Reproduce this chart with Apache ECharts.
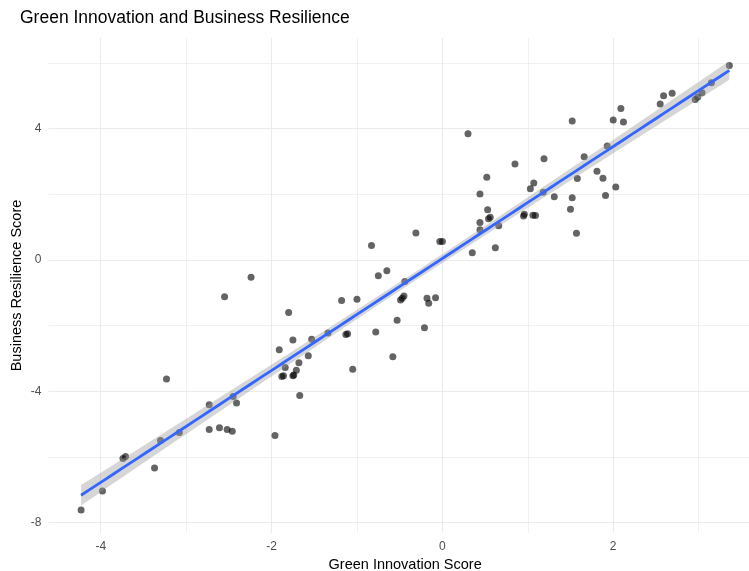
<!DOCTYPE html>
<html>
<head>
<meta charset="utf-8">
<title>Green Innovation and Business Resilience</title>
<script src="https://cdn.jsdelivr.net/npm/echarts@6/dist/echarts.min.js"></script>
<style>
  html, body { margin: 0; padding: 0; background: #ffffff; }
  #chart { width: 749px; height: 571px; }
</style>
</head>
<body>
<div id="chart"></div>
<script>
// Firm-level scores
const greenScore = [
  -4.23, -3.98, -3.74, -3.71, -3.37, -3.30, -3.23, -3.08, -2.73, -2.73,
  -2.61, -2.52, -2.46, -2.45, -2.41, -2.24, -2.55, -1.96, -1.80, -1.91,
  -1.75, -1.84, -1.88, -1.86, -1.75, -1.74, -1.71, -1.68, -1.67, -1.57,
  -1.53, -1.34, -1.18, -1.00, -1.13, -1.11, -1.05, -0.83, -0.75, -0.65,
  -0.78, -0.58, -0.53, -0.44, -0.45, -0.49, -0.47, -0.31, -0.21, -0.18,
  -0.16, -0.08, -0.03, 0.00, 0.30, 0.35, 0.44, 0.52, 0.53, 0.44,
  0.44, 0.54, 0.56, 0.66, 0.62, 0.85, 0.95, 0.96, 1.03, 1.07,
  1.06, 1.09, 1.19, 1.18, 1.31, 1.50, 1.52, 1.52, 1.57, 1.58,
  1.66, 1.81, 1.88, 1.91, 1.93, 2.03, 2.00, 2.09, 2.12, 2.55,
  2.59, 2.69, 2.96, 2.99, 3.04, 3.15, 3.36
];
const resilienceScore = [
  -7.62, -7.04, -6.05, -5.99, -6.34, -5.50, -3.63, -5.26, -4.41, -5.17,
  -5.11, -5.17, -5.22, -4.16, -4.36, -0.53, -1.12, -5.35, -1.60, -2.74,
  -2.44, -3.28, -3.55, -3.53, -3.53, -3.51, -3.36, -3.13, -4.13, -2.92,
  -2.42, -2.23, -1.24, -1.20, -2.27, -2.25, -3.33, 0.44, -0.48, -0.33,
  -2.20, -2.95, -1.84, -0.66, -1.10, -1.22, -1.17, 0.82, -2.07, -1.17,
  -1.32, -1.15, 0.56, 0.56, 3.84, 0.22, 2.01, 2.52, 1.53, 1.14,
  0.92, 1.25, 1.30, 1.04, 0.37, 2.92, 1.34, 1.39, 2.17, 2.34,
  1.36, 1.35, 3.08, 2.06, 1.92, 1.54, 1.89, 4.23, 0.81, 2.48,
  3.14, 2.70, 2.49, 1.96, 3.47, 2.22, 4.26, 4.61, 4.20, 4.75,
  5.00, 5.08, 4.89, 4.96, 5.09, 5.40, 5.92
];

// Axis breaks
const xMajorTicks = [-4, -2, 0, 2];
const xMinorTicks = [-3, -1, 1, 3];
const yMajorTicks = [-8, -4, 0, 4];
const yMinorTicks = [-6, -2, 2, 6];

// Linear fit settings: two-sided confidence level and its t critical value
const confidenceLevel = 0.80;
const tCrit = 1.29;

// Ordinary least squares fit with a confidence band
const n = greenScore.length;
const xMean = greenScore.reduce((a, b) => a + b, 0) / n;
const yMean = resilienceScore.reduce((a, b) => a + b, 0) / n;
let sxx = 0, sxy = 0;
for (let i = 0; i < n; i++) {
  sxx += (greenScore[i] - xMean) ** 2;
  sxy += (greenScore[i] - xMean) * (resilienceScore[i] - yMean);
}
const slope = sxy / sxx;
const intercept = yMean - slope * xMean;
let sse = 0;
for (let i = 0; i < n; i++) {
  sse += (resilienceScore[i] - (intercept + slope * greenScore[i])) ** 2;
}
const sigma = Math.sqrt(sse / (n - 2));
const xLo = Math.min(...greenScore);
const xHi = Math.max(...greenScore);
const steps = 80;
const fitLine = [];
const bandUpper = [];
const bandLower = [];
for (let k = 0; k <= steps; k++) {
  const x = xLo + (xHi - xLo) * k / steps;
  const yHat = intercept + slope * x;
  const half = tCrit * sigma * Math.sqrt(1 / n + (x - xMean) ** 2 / sxx);
  fitLine.push([x, yHat]);
  bandUpper.push([x, yHat + half]);
  bandLower.push([x, yHat - half]);
}

const points = greenScore.map((x, i) => [x, resilienceScore[i]]);

const FONT = '"Liberation Sans", Arial, Helvetica, sans-serif';
const GRID_COLOR = '#EBEBEB';
const X_MIN = -4.614, X_MAX = 3.59;
const Y_MIN = -8.32, Y_MAX = 6.76;

const chart = echarts.init(document.getElementById('chart'), null, { renderer: 'canvas' });

chart.setOption({
  backgroundColor: '#ffffff',
  animation: false,
  title: {
    text: 'Green Innovation and Business Resilience',
    left: 20,
    top: 9,
    padding: 0,
    textStyle: { fontFamily: FONT, fontSize: 17.5, fontWeight: 'normal', color: '#000000' }
  },
  grid: { left: 48.3, right: 0, top: 38, bottom: 38, outerBoundsMode: 'none', containLabel: false },
  xAxis: [
    {
      type: 'value',
      min: X_MIN, max: X_MAX,
      name: 'Green Innovation Score',
      nameLocation: 'middle',
      nameGap: 24,
      nameMoveOverlap: false,
      nameTextStyle: { fontFamily: FONT, fontSize: 14.5, color: '#000000', padding: [0, 0, 0, 13] },
      axisLine: { show: false },
      axisTick: { show: false, customValues: xMajorTicks },
      axisLabel: { customValues: xMajorTicks, fontFamily: FONT, fontSize: 12, color: '#4D4D4D', margin: 8 },
      splitLine: { show: true, lineStyle: { color: GRID_COLOR, width: 1.1 } }
    },
    {
      type: 'value',
      min: X_MIN, max: X_MAX,
      gridIndex: 0,
      position: 'bottom',
      axisLine: { show: false },
      axisTick: { show: false, customValues: xMinorTicks },
      axisLabel: { show: false, customValues: xMinorTicks },
      splitLine: { show: true, lineStyle: { color: GRID_COLOR, width: 0.7 } }
    }
  ],
  yAxis: [
    {
      type: 'value',
      min: Y_MIN, max: Y_MAX,
      name: 'Business Resilience Score',
      nameLocation: 'middle',
      nameGap: 24,
      nameRotate: 90,
      nameMoveOverlap: false,
      nameTextStyle: { fontFamily: FONT, fontSize: 14.5, color: '#000000' },
      axisLine: { show: false },
      axisTick: { show: false, customValues: yMajorTicks },
      axisLabel: { customValues: yMajorTicks, fontFamily: FONT, fontSize: 12, color: '#4D4D4D', margin: 7 },
      splitLine: { show: true, lineStyle: { color: GRID_COLOR, width: 1.1 } }
    },
    {
      type: 'value',
      min: Y_MIN, max: Y_MAX,
      gridIndex: 0,
      position: 'left',
      axisLine: { show: false },
      axisTick: { show: false, customValues: yMinorTicks },
      axisLabel: { show: false, customValues: yMinorTicks },
      splitLine: { show: true, lineStyle: { color: GRID_COLOR, width: 0.7 } }
    }
  ],
  series: [
    {
      name: 'Firms',
      type: 'scatter',
      xAxisIndex: 0, yAxisIndex: 0,
      data: points,
      symbol: 'circle',
      symbolSize: 7,
      itemStyle: { color: 'rgba(0,0,0,0.76)', borderWidth: 0 },
      z: 2
    },
    {
      name: 'Confidence band',
      type: 'custom',
      xAxisIndex: 0, yAxisIndex: 0,
      data: [0],
      silent: true,
      z: 3,
      renderItem: function (params, api) {
        const pts = bandUpper.map(p => api.coord(p))
          .concat(bandLower.slice().reverse().map(p => api.coord(p)));
        return {
          type: 'polygon',
          shape: { points: pts },
          style: { fill: 'rgba(153,153,153,0.4)', stroke: null }
        };
      }
    },
    {
      name: 'Linear fit',
      type: 'line',
      xAxisIndex: 0, yAxisIndex: 0,
      data: fitLine,
      showSymbol: false,
      symbol: 'none',
      lineStyle: { color: '#3366FF', width: 2.8 },
      z: 4
    }
  ]
});
</script>
</body>
</html>
